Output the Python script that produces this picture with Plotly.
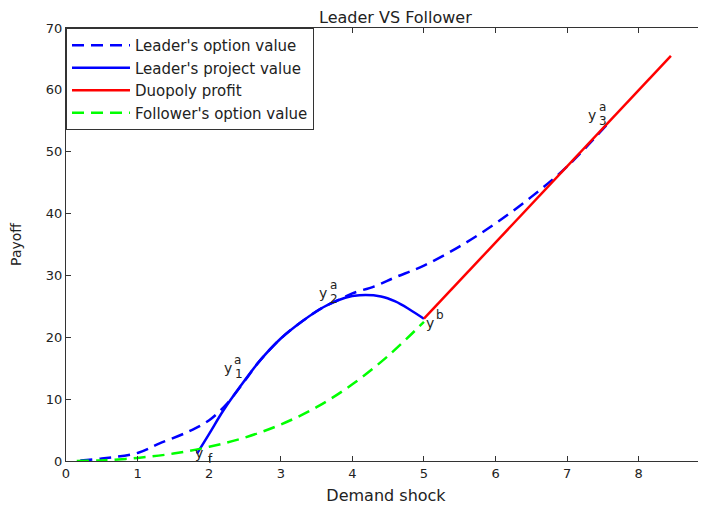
import plotly.graph_objects as go

# ---- data ----
leader_opt_x = [0.2, 0.5, 1.0, 1.3, 1.7, 2.0, 2.25, 2.5, 2.7, 3.0, 3.3, 3.6, 3.8, 4.0, 4.3, 4.6, 5.0, 5.5, 6.0, 6.5, 7.0, 7.55]
leader_opt_y = [0.1, 0.4, 1.3, 2.8, 4.7, 6.6, 9.3, 13.0, 16.1, 19.8, 22.6, 24.9, 26.0, 27.1, 28.2, 29.7, 31.6, 34.7, 38.4, 42.7, 47.6, 54.3]

leader_proj_x = [1.83, 2.0, 2.2, 2.43, 2.7, 3.0, 3.3, 3.6, 3.9, 4.1, 4.4, 4.6, 4.8, 5.0]
leader_proj_y = [1.2, 4.4, 8.2, 12.0, 16.1, 19.8, 22.6, 24.9, 26.4, 26.8, 26.6, 25.8, 24.5, 23.0]

duopoly_x = [5.0, 8.45]
duopoly_y = [23.0, 65.5]

follower_x = [0.15, 0.5, 1.0, 1.5, 2.0, 2.5, 3.0, 3.5, 4.0, 4.5, 5.0]
follower_y = [0.0, 0.1, 0.5, 1.2, 2.3, 3.8, 5.9, 8.7, 12.4, 17.0, 22.5]

x_ticks = [0, 1, 2, 3, 4, 5, 6, 7, 8]
y_ticks = [0, 10, 20, 30, 40, 50, 60, 70]

# labels: (base, sup, sub, x, y)
point_labels = [
    ("y", "a", "1", 2.26, 15.0),
    ("y", "a", "2", 3.59, 27.2),
    ("y", "a", "3", 7.35, 55.9),
    ("y", "b", None, 5.08, 22.3),
    ("y", None, "f", 1.86, 1.3),
]

FONT = "DejaVu Sans, Verdana, sans-serif"
INK = "#222222"

fig = go.Figure()
fig.add_trace(go.Scatter(x=leader_opt_x, y=leader_opt_y, mode="lines",
                         name="Leader's option value",
                         line=dict(color="#0000ff", width=2.5, dash="12px,7px", shape="spline")))
fig.add_trace(go.Scatter(x=leader_proj_x, y=leader_proj_y, mode="lines",
                         name="Leader's project value",
                         line=dict(color="#0000ff", width=2.5, shape="spline")))
fig.add_trace(go.Scatter(x=duopoly_x, y=duopoly_y, mode="lines",
                         name="Duopoly profit",
                         line=dict(color="#ff0000", width=2.5)))
fig.add_trace(go.Scatter(x=follower_x, y=follower_y, mode="lines",
                         name="Follower's option value",
                         line=dict(color="#00ff00", width=2.5, dash="12px,7px", shape="spline")))

annotations = []
for base, sup, sub, x, y in point_labels:
    annotations.append(dict(x=x, y=y, text=base, showarrow=False,
                            font=dict(size=14, color=INK, family=FONT)))
    if sup:
        annotations.append(dict(x=x, y=y, xshift=10, yshift=8, text=sup, showarrow=False,
                                font=dict(size=12, color=INK, family=FONT)))
    if sub:
        annotations.append(dict(x=x, y=y, xshift=11, yshift=-6, text=sub, showarrow=False,
                                font=dict(size=12, color=INK, family=FONT)))

axis_common = dict(showline=True, linecolor="#333333", linewidth=1, mirror="allticks",
                   ticks="inside", ticklen=5, tickcolor="#333333", showgrid=False,
                   zeroline=False, automargin=False,
                   tickfont=dict(size=13, color=INK, family=FONT))

# page body has an 8px margin, so the figure is sized to fit the window
fig.update_layout(
    width=698, height=502,
    margin=dict(l=58, r=0, t=20, b=49, autoexpand=False),
    paper_bgcolor="white", plot_bgcolor="white",
    font=dict(family=FONT, color=INK, size=14),
    title=dict(text="Leader VS Follower", x=0.555, xanchor="center", y=0.981, yanchor="middle",
               automargin=False, font=dict(size=16, color=INK, family=FONT)),
    xaxis=dict(range=[0, 8.94], tickvals=x_ticks,
               title=dict(text="Demand shock", standoff=10, font=dict(size=16)), **axis_common),
    yaxis=dict(range=[0, 70], tickvals=y_ticks,
               title=dict(text="Payoff", standoff=20, font=dict(size=14)), **axis_common),
    legend=dict(x=0.0, y=1.0, xanchor="left", yanchor="top", bgcolor="white",
                bordercolor="#333333", borderwidth=1, font=dict(size=15, color=INK, family=FONT),
                tracegroupgap=0, itemwidth=58),
    showlegend=True,
    annotations=annotations,
)

fig.write_html("out.html")
